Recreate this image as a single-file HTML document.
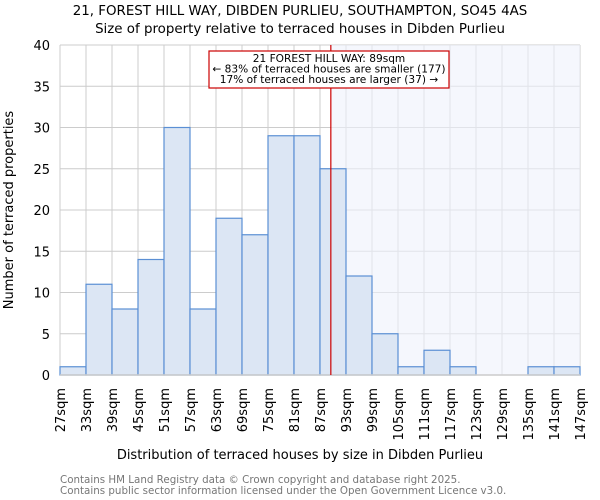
<!DOCTYPE html>
<html><head><meta charset="utf-8"><style>
body{margin:0;background:#fff}
svg{font-family:"DejaVu Sans","Liberation Sans",sans-serif;display:block}
</style></head><body>
<svg id="chart" width="600" height="500" viewBox="0 0 600 500">
<g id="grid"></g>
<g id="shade"></g>
<g id="bars"></g>
<g id="axes"></g>
<text x="300" y="15" text-anchor="middle" font-size="13.4">21, FOREST HILL WAY, DIBDEN PURLIEU, SOUTHAMPTON, SO45 4AS</text>
<text x="300" y="33" text-anchor="middle" font-size="13.4">Size of property relative to terraced houses in Dibden Purlieu</text>
<text x="300" y="459" text-anchor="middle" font-size="13">Distribution of terraced houses by size in Dibden Purlieu</text>
<text transform="translate(13,210) rotate(-90)" text-anchor="middle" font-size="13">Number of terraced properties</text>
<text x="60" y="483" font-size="10.3" fill="#777">Contains HM Land Registry data © Crown copyright and database right 2025.</text>
<text x="60" y="494" font-size="10.3" fill="#777">Contains public sector information licensed under the Open Government Licence v3.0.</text>
</svg>
<script>
const categories=["27sqm","33sqm","39sqm","45sqm","51sqm","57sqm","63sqm","69sqm","75sqm","81sqm","87sqm","93sqm","99sqm","105sqm","111sqm","117sqm","123sqm","129sqm","135sqm","141sqm","147sqm"];
const binStarts=[27,33,39,45,51,57,63,69,75,81,87,93,99,105,111,117,123,129,135,141];
const counts=[1,11,8,14,30,8,19,17,29,29,25,12,5,1,3,1,0,0,1,1];
const yTicks=[0,5,10,15,20,25,30,35,40];
const propertySize=89.5;
const annotationLines=["21 FOREST HILL WAY: 89sqm","← 83% of terraced houses are smaller (177)","17% of terraced houses are larger (37) →"];

const X0=60,X1=580,Y0=375,Y1=45,xmin=27,xmax=147,ymax=40;
const xs=v=>X0+(v-xmin)/(xmax-xmin)*(X1-X0);
const ys=v=>Y0-v/ymax*(Y0-Y1);
const NS="http://www.w3.org/2000/svg";
function mk(tag,attrs,parent){const e=document.createElementNS(NS,tag);for(const k in attrs)e.setAttribute(k,attrs[k]);parent.appendChild(e);return e;}
const grid=document.getElementById('grid'),bars=document.getElementById('bars'),axes=document.getElementById('axes'),shade=document.getElementById('shade');

yTicks.forEach(t=>{
  const l=mk('line',{x1:X0,x2:X1,y1:ys(t),y2:ys(t),stroke:'#ccc','stroke-width':1},grid);
  
  
  const tx=mk('text',{x:X0-10,y:ys(t)+5,'text-anchor':'end','font-size':13},axes);
  tx.textContent=t;
  
  
});
categories.forEach((c,i)=>{
  const v=xmin+i*6;
  const l=mk('line',{x1:xs(v),x2:xs(v),y1:Y1,y2:Y0,stroke:'#ccc','stroke-width':1},grid);
  
  
  const tx=mk('text',{transform:`translate(${xs(v)+5},388) rotate(-90)`,'text-anchor':'end','font-size':13},axes);
  tx.textContent=c;
  
  
});
const sr=mk('rect',{x:xs(propertySize),y:Y1,width:X1-xs(propertySize),height:Y0-Y1,fill:'#eef2fb',opacity:0.6},shade);


binStarts.forEach((b,i)=>{
  if(counts[i]<=0)return;
  const r=mk('rect',{x:xs(b),y:ys(counts[i]),width:xs(b+6)-xs(b),height:Y0-ys(counts[i]),fill:'#dce6f4',stroke:'#5b8fd4','stroke-width':1.2},bars);
  
  
});
const bl=mk('line',{x1:X0,x2:X1,y1:Y0,y2:Y0,stroke:'#ccc','stroke-width':1.5},axes);


const ml=mk('line',{x1:xs(propertySize),x2:xs(propertySize),y1:Y1,y2:Y0,stroke:'#c00','stroke-width':1.2},axes);


const box=mk('rect',{x:209,y:51,width:240,height:37,fill:'#fff',stroke:'#c00','stroke-width':1.2},axes);


annotationLines.forEach((s,i)=>{
  const t=mk('text',{x:329,y:62+i*10.5,'text-anchor':'middle','font-size':10.6},axes);
  t.textContent=s;
  
  
});
</script>
</body></html>
